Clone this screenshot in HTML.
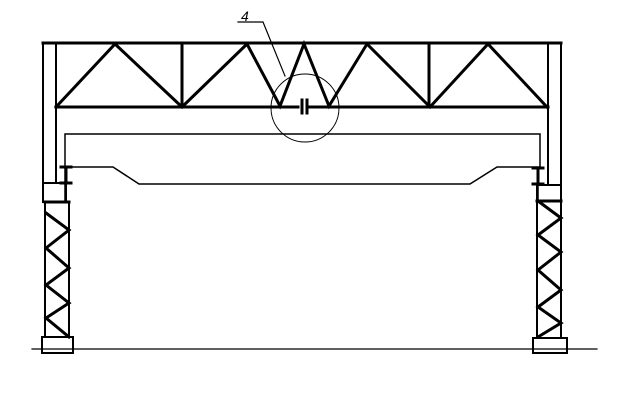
<!DOCTYPE html>
<html><head><meta charset="utf-8"><style>html,body{margin:0;padding:0;background:#fff}svg{display:block}</style></head>
<body>
<svg width="621" height="417" viewBox="0 0 621 417" xmlns="http://www.w3.org/2000/svg" stroke="#000" fill="none" stroke-linecap="square">
<!-- columns upper -->
<g stroke-width="2">
<line x1="43" y1="43" x2="43" y2="202"/>
<line x1="56" y1="43" x2="56" y2="183"/>
<line x1="561" y1="43" x2="561" y2="202"/>
<line x1="548" y1="43" x2="548" y2="185"/>
</g>
<!-- truss -->
<g stroke-width="3">
<line x1="43" y1="43" x2="561" y2="43"/>
<line x1="56" y1="107" x2="298" y2="107"/>
<line x1="310" y1="107" x2="548" y2="107"/>
<polyline points="56,107 115,44 182,107 247,44 280,106 304,44 329,106 367,44 430,107 488,44 547,107"/>
<line x1="182" y1="44" x2="182" y2="107"/>
<line x1="429" y1="44" x2="429" y2="107"/>
<line x1="302" y1="100" x2="302" y2="113"/>
<line x1="307" y1="100" x2="307" y2="113"/>
</g>
<!-- circle and leader -->
<circle cx="305" cy="108" r="34" stroke-width="1"/>
<polyline points="238,22 263,22 285,76" stroke-width="1.2"/>
<text x="241" y="21" font-family="Liberation Sans, sans-serif" font-size="14" fill="#000" stroke="none" font-style="italic">4</text>
<!-- crane frame -->
<g stroke-width="1.5">
<polyline points="65,200 65,134 540,134 540,168"/>
<polyline points="65,167 113,167 139,184 470,184 497,167 540,167"/>
<line x1="538" y1="168" x2="538" y2="200"/>
</g>
<g stroke-width="3">
<line x1="66" y1="167" x2="66" y2="183"/><line x1="61" y1="167" x2="71" y2="167"/><line x1="61" y1="183" x2="71" y2="183"/>
<line x1="538" y1="168" x2="538" y2="184"/><line x1="533" y1="168" x2="543" y2="168"/><line x1="533" y1="184" x2="543" y2="184"/>
</g>
<!-- left lower column -->
<g stroke-width="2">
<rect x="43" y="183" width="23" height="19"/>
<line x1="45" y1="202" x2="45" y2="337"/>
<line x1="69" y1="202" x2="69" y2="337"/>
<rect x="42" y="337" width="31" height="16"/>
<rect x="537" y="185" width="24" height="16"/>
<line x1="537" y1="201" x2="537" y2="337"/>
<line x1="561" y1="201" x2="561" y2="337"/>
<rect x="533" y="338" width="34" height="15"/>
</g>
<g stroke-width="3">
<line x1="45" y1="202" x2="69" y2="202"/>
<polyline points="46,213 69,230 46,248 69,268 46,285 69,303 46,318 69,337"/>
<line x1="537" y1="201" x2="561" y2="201"/>
<polyline points="538,201 561,218 538,235 561,252 538,270 561,290 538,307 561,323 538,337"/>
</g>
<line x1="32" y1="349" x2="597" y2="349" stroke-width="1.2"/>
</svg>
</body></html>
